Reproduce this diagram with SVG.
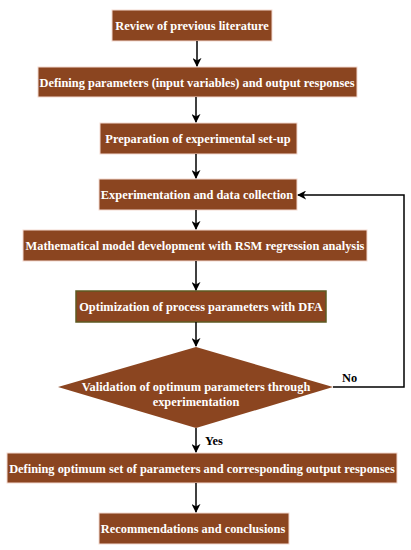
<svg xmlns="http://www.w3.org/2000/svg" width="411" height="550" viewBox="0 0 411 550">
<defs>
<marker id="ah" viewBox="0 0 10 10" refX="9" refY="5" markerWidth="9" markerHeight="9" orient="auto" markerUnits="userSpaceOnUse">
<path d="M0,0 L10,5 L0,10 L3,5 Z" fill="#000"/>
</marker>
<style>
.box{fill:#8b4520;stroke:#f3d9cf;stroke-width:1}
.box6{fill:#8b4520;stroke:#5d5a22;stroke-width:1.5}
.t{font-family:"Liberation Serif","Times New Roman",serif;font-weight:bold;font-size:12.4px;fill:#fff;text-anchor:middle}
.lbl{font-family:"Liberation Serif","Times New Roman",serif;font-weight:bold;font-size:12.4px;fill:#000}
.c{fill:none;stroke:#000;stroke-width:1.5}
</style>
</defs>
<rect width="411" height="550" fill="#fff"/>
<g id="n1"><rect class="box" x="112" y="10" width="160" height="31"/><text class="t" x="192" y="30">Review of previous literature</text></g>
<g id="n2"><rect class="box" x="38" y="67" width="319" height="30"/><text class="t" x="197" y="86.5">Defining parameters (input variables) and output responses</text></g>
<g id="n3"><rect class="box" x="100" y="123" width="197" height="31"/><text class="t" x="198" y="142.5">Preparation of experimental set-up</text></g>
<g id="n4"><rect class="box" x="99" y="179" width="198" height="31"/><text class="t" x="197" y="198.5">Experimentation and data collection</text></g>
<g id="n5"><rect class="box" x="23" y="230" width="344" height="31"/><text class="t" x="195" y="249.5">Mathematical model development with RSM regression analysis</text></g>
<g id="n6"><rect class="box6" x="76" y="291" width="250" height="31"/><text class="t" x="201" y="310.5">Optimization of process parameters with DFA</text></g>
<g id="n7"><polygon class="box" points="196,347 333,387 196,428 58,387" style="stroke:none"/><text class="t" x="196" y="391">Validation of optimum parameters through</text><text class="t" x="196" y="406">experimentation</text></g>
<g id="n8"><rect class="box" x="7" y="453" width="390" height="30"/><text class="t" x="202" y="472.5">Defining optimum set of parameters and corresponding output responses</text></g>
<g id="n9"><rect class="box" x="99" y="513" width="190" height="31"/><text class="t" x="193" y="532.5">Recommendations and conclusions</text></g>
<g id="connectors">
<line class="c" x1="197" y1="41" x2="197" y2="66" marker-end="url(#ah)"/>
<line class="c" x1="196" y1="97" x2="196" y2="122" marker-end="url(#ah)"/>
<line class="c" x1="196" y1="154" x2="196" y2="178" marker-end="url(#ah)"/>
<line class="c" x1="196" y1="210" x2="196" y2="229" marker-end="url(#ah)"/>
<line class="c" x1="196" y1="261" x2="196" y2="290" marker-end="url(#ah)"/>
<line class="c" x1="196" y1="322" x2="196" y2="346" marker-end="url(#ah)"/>
<polyline class="c" points="333,387 404,387 404,195 298,195" marker-end="url(#ah)"/>
<line class="c" x1="196" y1="428" x2="196" y2="452" marker-end="url(#ah)"/>
<line class="c" x1="196" y1="483" x2="196" y2="512" marker-end="url(#ah)"/>
<text class="lbl" x="342" y="382">No</text>
<text class="lbl" x="205" y="445">Yes</text>
</g>
</svg>
